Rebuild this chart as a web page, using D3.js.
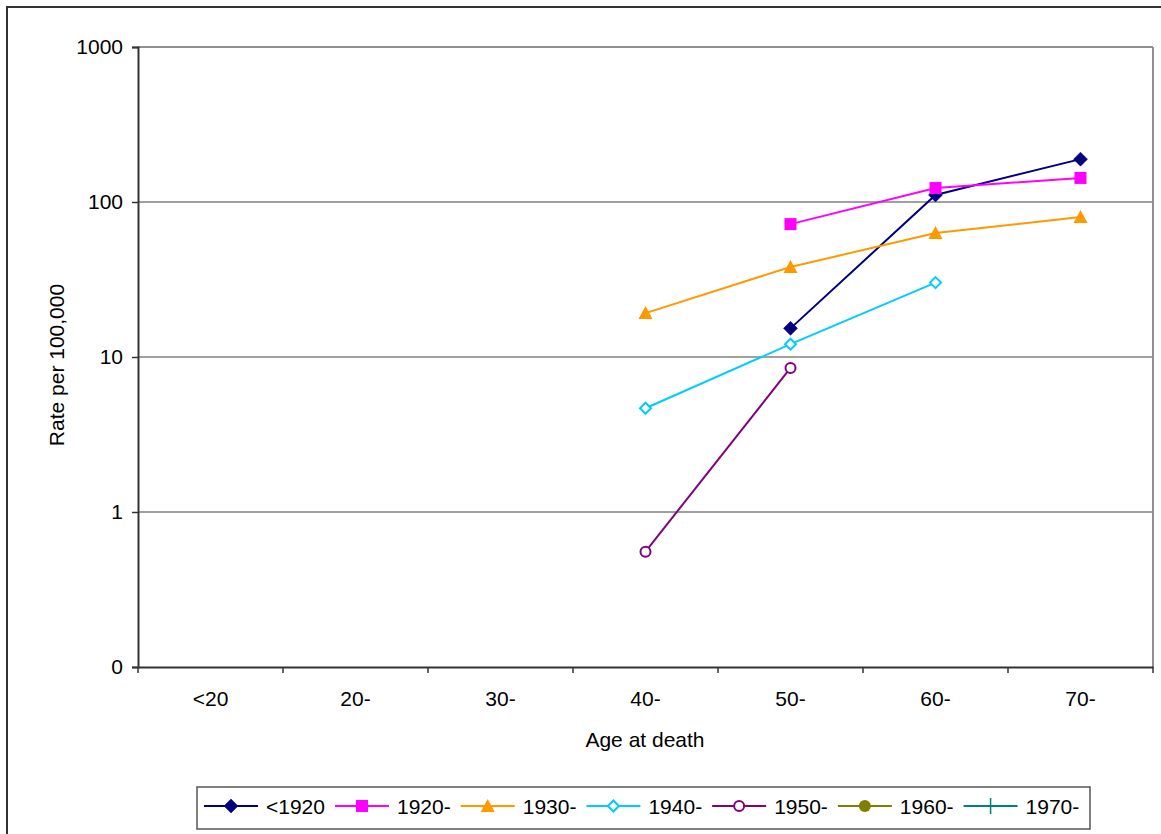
<!DOCTYPE html>
<html>
<head>
<meta charset="utf-8">
<script src="https://cdn.jsdelivr.net/npm/d3@7"></script>
<style>
  html, body { margin: 0; padding: 0; background: #fff; }
  svg { display: block; }
  text { font-family: "Liberation Sans", Arial, sans-serif; fill: #000; }
</style>
</head>
<body>
<svg id="chart" width="1161" height="834"></svg>
<script>
// ---- data ----
const categories = ["<20", "20-", "30-", "40-", "50-", "60-", "70-"];
const seriesNames = ["<1920", "1920-", "1930-", "1940-", "1950-", "1960-", "1970-"];
const s1920before = [null, null, null, null, 15.3, 111, 189];
const s1920 = [null, null, null, null, 72, 123, 143];
const s1930 = [null, null, null, 19.2, 38.1, 63, 80];
const s1940 = [null, null, null, 4.67, 12.1, 30.2, null];
const s1950 = [null, null, null, 0.555, 8.5, null, null];
const s1960 = [null, null, null, null, null, null, null];
const s1970 = [null, null, null, null, null, null, null];
const yTickValues = [0.1, 1, 10, 100, 1000];
const yTickLabels = ["0", "1", "10", "100", "1000"];
const seriesColors = ["#000080", "#FF00FF", "#FF9900", "#00CCFF", "#800080", "#808000", "#008080"];
const seriesMarkers = ["diamond", "square", "triangle", "diamondOpen", "circleOpen", "circle", "plus"];
const seriesValues = [s1920before, s1920, s1930, s1940, s1950, s1960, s1970];

// ---- layout ----
const svg = d3.select("#chart");
const pL = 138, pR = 1153, pT = 47, pB = 667;
const FS = 21;

const x = d3.scaleBand().domain(categories).range([pL, pR]).padding(0);
const y = d3.scaleLog().domain([0.1, 1000]).range([pB, pT]);

// outer border
svg.append("rect").attr("x", 7).attr("y", 7).attr("width", 1170).attr("height", 840)
  .attr("fill", "none").attr("stroke", "#333").attr("stroke-width", 2);

// gridlines
svg.append("g").selectAll("line").data(yTickValues.filter(v => v > 0.1 && v < 1000)).join("line")
  .attr("x1", pL).attr("x2", pR).attr("y1", d => y(d)).attr("y2", d => y(d))
  .attr("stroke", "#808080").attr("stroke-width", 1.5);

// plot frame top & right
svg.append("line").attr("x1", pL).attr("x2", pR).attr("y1", pT).attr("y2", pT)
  .attr("stroke", "#909090").attr("stroke-width", 2);
svg.append("line").attr("x1", pR).attr("x2", pR).attr("y1", pT).attr("y2", pB)
  .attr("stroke", "#909090").attr("stroke-width", 2);

// y axis
const yAxis = d3.axisLeft(y).tickValues(yTickValues)
  .tickFormat((d, i) => yTickLabels[i]).tickSize(6).tickPadding(9);
const gy = svg.append("g").attr("transform", `translate(${pL},0)`).call(yAxis);
gy.select(".domain").attr("stroke", "#333").attr("stroke-width", 2);
gy.selectAll(".tick line").attr("stroke", "#333").attr("stroke-width", 1.5);
gy.selectAll(".tick text").style("font-size", FS + "px").style("font-family", '"Liberation Sans", Arial, sans-serif').attr("fill", "#000");

// x axis
const xAxis = d3.axisBottom(x).tickSize(0).tickPadding(0);
const gx = svg.append("g").attr("transform", `translate(0,${pB})`).call(xAxis);
gx.select(".domain").attr("stroke", "#333").attr("stroke-width", 2);
gx.selectAll(".tick text").style("font-size", FS + "px").style("font-family", '"Liberation Sans", Arial, sans-serif')
  .attr("fill", "#000").attr("dy", null).attr("y", 39);
// x tick marks at category boundaries
const bounds = categories.map(c => x(c)).concat([x(categories[categories.length - 1]) + x.bandwidth()]);
svg.append("g").selectAll("line").data(bounds).join("line")
  .attr("x1", d => d).attr("x2", d => d).attr("y1", pB).attr("y2", pB + 6)
  .attr("stroke", "#333").attr("stroke-width", 1.5);

// axis titles
svg.append("text").attr("x", 645).attr("y", 747).attr("text-anchor", "middle")
  .style("font-size", FS + "px").text("Age at death");
svg.append("text").attr("transform", "translate(64,365) rotate(-90)").attr("text-anchor", "middle")
  .style("font-size", FS + "px").text("Rate per 100,000");

// markers
function drawMarker(g, type, color, cx, cy) {
  const m = g.append("g").attr("transform", `translate(${cx},${cy})`);
  if (type === "diamond") {
    m.append("path").attr("d", "M0,-7L7,0L0,7L-7,0Z").attr("fill", color).attr("stroke", color).attr("stroke-width", 0.5);
  } else if (type === "square") {
    m.append("rect").attr("x", -6).attr("y", -6).attr("width", 12).attr("height", 12).attr("fill", color);
  } else if (type === "triangle") {
    m.append("path").attr("d", "M0,-7L7,6L-7,6Z").attr("fill", color);
  } else if (type === "diamondOpen") {
    m.append("path").attr("d", "M0,-5.5L5.5,0L0,5.5L-5.5,0Z").attr("fill", "#fff").attr("stroke", color).attr("stroke-width", 2);
  } else if (type === "circleOpen") {
    m.append("circle").attr("r", 5).attr("fill", "#fff").attr("stroke", color).attr("stroke-width", 2);
  } else if (type === "circle") {
    m.append("circle").attr("r", 6).attr("fill", color);
  } else if (type === "plus") {
    m.append("path").attr("d", "M-6,0H6M0,-8V8").attr("stroke", color).attr("stroke-width", 1.5);
  }
}

// series
const line = d3.line().defined(d => d.v != null)
  .x(d => x(d.c) + x.bandwidth() / 2).y(d => y(d.v));
const plot = svg.append("g");
seriesValues.forEach((vals, i) => {
  const pts = categories.map((c, j) => ({ c, v: vals[j] }));
  plot.append("path").datum(pts).attr("d", line).attr("fill", "none")
    .attr("stroke", seriesColors[i]).attr("stroke-width", 2);
});
seriesValues.forEach((vals, i) => {
  categories.forEach((c, j) => {
    if (vals[j] != null) drawMarker(plot, seriesMarkers[i], seriesColors[i], x(c) + x.bandwidth() / 2, y(vals[j]));
  });
});

// legend
const lg = svg.append("g");
lg.append("rect").attr("x", 197).attr("y", 787).attr("width", 893).attr("height", 42)
  .attr("fill", "#fff").attr("stroke", "#555").attr("stroke-width", 1.5);
let lx = 204;
const ly = 806;
seriesNames.forEach((name, i) => {
  lg.append("line").attr("x1", lx).attr("x2", lx + 54).attr("y1", ly).attr("y2", ly)
    .attr("stroke", seriesColors[i]).attr("stroke-width", 2);
  drawMarker(lg, seriesMarkers[i], seriesColors[i], lx + 27, ly);
  const t = lg.append("text").attr("x", lx + 62).attr("y", 813.5).style("font-size", FS + "px").text(name);
  const w = t.node().getComputedTextLength();
  lx = lx + 62 + w + 10;
});
</script>
</body>
</html>
